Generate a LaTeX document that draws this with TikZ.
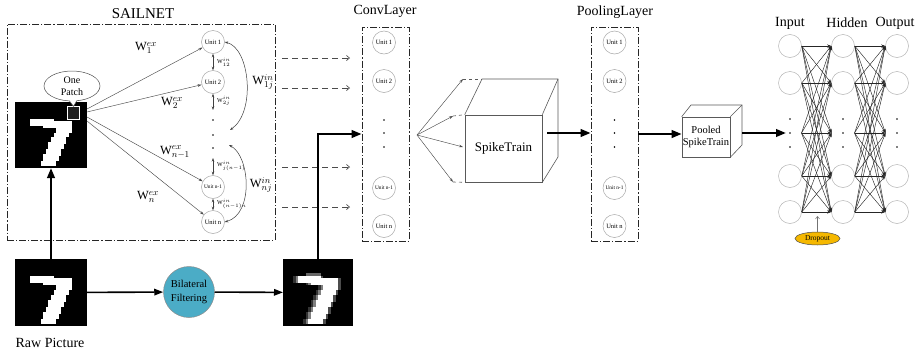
\documentclass[tikz,border=0pt]{standalone}
\usepackage{fontspec}
\setmainfont{Liberation Serif}
\usetikzlibrary{arrows.meta,shapes.geometric,shapes.callouts,calc}

\definecolor{dropgold}{HTML}{F5B800}
\definecolor{filterteal}{HTML}{4BACC6}

\newcommand\fs[2]{\fontsize{#1}{#2}\selectfont}

% white runs of the handwritten seven on a 28x28 grid: row/first column/last column
\newcommand\sevenrows{7/6/14, 8/6/21, 9/6/21, 10/11/21, 11/16/21, 12/16/21,
  13/15/20, 14/15/20, 15/14/19, 16/14/19, 17/13/19, 18/13/18, 19/13/18,
  20/12/17, 21/12/17, 22/11/17, 23/11/16, 24/11/16, 25/10/15, 26/10/15}

% #1 image node, #2 cell width, #3 cell height
\newcommand\drawseven[3]{%
  \begin{scope}[shift={(#1.north west)},x={(#2pt,0pt)},y={(0pt,-#3pt)}]
    \foreach \r/\a/\b in \sevenrows {\fill[white] (\a,\r) rectangle ({\b+1},{\r+1});}
  \end{scope}}

% same digit after edge-preserving smoothing: grey fringe along the strokes
\newcommand\drawsevensoft[3]{%
  \begin{scope}[shift={(#1.north west)},x={(#2pt,0pt)},y={(0pt,-#3pt)}]
    \foreach \r/\a/\b in \sevenrows {
      \fill[black!80] ({\a-2},\r) rectangle ({\a-1},{\r+1});
      \fill[black!50] ({\a-1},\r) rectangle (\a,{\r+1});
      \fill[black!70] ({\b+1},\r) rectangle ({\b+2},{\r+1});
    }
    \fill[black!60] (9,6) rectangle (15,7);
    \foreach \r/\a/\b in \sevenrows {\fill[white] (\a,\r) rectangle ({\b+1},{\r+1});}
  \end{scope}}

\begin{document}
\begin{tikzpicture}[x=1pt,y=-1pt,
  unit/.style={circle, draw=black!35, line width=0.5pt, minimum size=23pt, inner sep=0pt, font=\fs{6.5}{7}},
  unitsm/.style={unit, font=\fs{5.3}{6}},
  layerbox/.style={draw=black!85, line width=0.7pt, dash pattern=on 7pt off 2pt on 1.2pt off 2pt},
  title/.style={font=\fs{14}{16}},
  wlab/.style={font=\fs{12.5}{14}, inner sep=0pt},
  wsmall/.style={font=\fs{6}{7}, inner sep=0pt, anchor=west},
  thickarrow/.style={line width=2.3pt, -{Triangle[length=10pt,width=7.5pt]}},
  midarrow/.style={line width=1.6pt, -{Triangle[length=9pt,width=6.5pt]}},
  thinarrow/.style={draw=black!70, line width=0.45pt, -{Stealth[length=4pt,width=2.6pt]}},
  dasharrow/.style={draw=black!70, line width=0.7pt, dash pattern=on 6pt off 4pt, -{Straight Barb[length=3pt,width=5pt]}},
  inharrow/.style={draw=black!75, line width=0.5pt, {Stealth[length=3.5pt,width=2.5pt]}-{Stealth[length=3.5pt,width=2.5pt]}},
  nncirc/.style={circle, draw=black!30, line width=0.5pt, minimum size=23pt, inner sep=0pt},
  nnline/.style={draw=black!85, line width=0.45pt, -{Stealth[length=4pt,width=3pt]}},
  img/.style={fill=black, inner sep=0pt, outer sep=0pt},
  dot/.style={circle, fill=black, inner sep=0pt, minimum size=1.6pt},
  cube/.style={draw=black!65, line width=0.6pt},
  ]
\useasboundingbox (0,0) rectangle (922,354);

% ---------------- SAILNET ----------------
\node[layerbox, minimum width=268pt, minimum height=216pt] (sailbox) at (141,132) {};
\node[title, font=\fs{15}{17}] (sailtitle) at (143,14) {SAILNET};

\node[img, minimum width=72pt, minimum height=66pt] (sailimg) at (51,135) {};
\drawseven{sailimg}{2.571}{2.357}
\node[fill=black!88, draw=white, line width=0.7pt, minimum size=12.5pt, inner sep=0pt] (patch) at (73.5,113) {};
\node[ellipse callout, draw=black!70, fill=white, line width=0.5pt, callout absolute pointer={(patch.north)},
      minimum width=56pt, minimum height=30pt, inner sep=0pt, align=center, font=\fs{10}{11.5}] (onepatch) at (72,86) {One\\Patch};

\node[unit] (u1) at (213,42) {Unit 1};
\node[unit] (u2) at (213,82) {Unit 2};
\node[unitsm] (un1) at (213,187) {Unit n-1};
\node[unit] (un) at (213,222) {Unit n};
\node[dot] (sd1) at (213,120) {};
\node[dot] (sd2) at (213,135) {};
\node[dot] (sd3) at (213,148) {};

\coordinate (s1) at (87,109);
\coordinate (s2) at (87,112);
\coordinate (s3) at (87,117);
\coordinate (s4) at (87,121);
\draw[thinarrow] (s1) -- (u1);
\draw[thinarrow] (s2) -- (u2);
\draw[thinarrow] (s3) -- (un1);
\draw[thinarrow] (s4) -- (un);

\node[wlab] (w1ex) at (146,48) {W$_{1}^{ex}$};
\node[wlab] (w2ex) at (172,103) {W$_{2}^{ex}$};
\node[wlab] (wn1ex) at (175,152) {W$_{n-1}^{ex}$};
\node[wlab] (wnex) at (148,197) {W$_{n}^{ex}$};

\coordinate (dtop) at (213,110);
\coordinate (dbot) at (213,158);
\draw[inharrow] (u1) -- (u2);
\draw[inharrow] (u2) -- (dtop);
\draw[inharrow] (dbot) -- (un1);
\draw[inharrow] (un1) -- (un);
\node[wsmall] (w12) at (217,62) {W$_{12}^{in}$};
\node[wsmall] (w2j) at (217,101) {W$_{2j}^{in}$};
\node[wsmall] (wjn) at (217,166) {W$_{j(n-1)}^{in}$};
\node[wsmall] (wnn) at (217,204) {W$_{(n-1)n}^{in}$};

\coordinate (c1e) at (230,130);
\coordinate (c2s) at (229,145);
\draw[inharrow] (u1.east) .. controls (250,48) and (256,112) .. (c1e);
\draw[inharrow] (c2s) .. controls (250,156) and (254,214) .. (un.east);
\node[wlab] (w1j) at (263,82) {W$_{1j}^{in}$};
\node[wlab] (wnj) at (261,185) {W$_{nj}^{in}$};

% excitatory outputs handed to the convolution layer
\foreach \k/\yy in {1/58, 2/88, 3/167, 4/207} {
  \coordinate (da\k) at (282,\yy);
  \coordinate (db\k) at (350,\yy);
  \draw[dasharrow] (da\k) -- (db\k);
}

% ---------------- input row ----------------
\node[img, minimum width=72pt, minimum height=67pt] (raw) at (51,292.5) {};
\drawseven{raw}{2.571}{2.393}
\node[font=\fs{14}{16}] (rawlab) at (50,343) {Raw Picture};

\node[circle, fill=filterteal, draw=black!45, line width=0.5pt, minimum size=51pt, inner sep=0pt,
      align=center, font=\fs{10.5}{14}] (bf) at (189,292) {Bilateral\\Filtering};

\node[img, minimum width=70pt, minimum height=67pt] (img2) at (318,292.5) {};
\drawsevensoft{img2}{2.5}{2.393}

\draw[thickarrow] (raw.north) -- (sailimg.south);
\draw[midarrow] (raw) -- (bf);
\draw[midarrow] (bf) -- (img2);

% ---------------- ConvLayer ----------------
\node[layerbox, minimum width=47pt, minimum height=214pt] (conv) at (385.5,134) {};
\node[title] (convtitle) at (385,11) {ConvLayer};
\node[unit] (c1) at (384,42.5) {Unit 1};
\node[unit] (c2) at (384,81) {Unit 2};
\node[unitsm] (c4) at (384,188) {Unit n-1};
\node[unit] (c5) at (384,226) {Unit n};
\node[dot] (cd1) at (384,120) {};
\node[dot] (cd2) at (384,133) {};
\node[dot] (cd3) at (384,147) {};

\draw[thickarrow] (img2.north) |- (conv.west);

% ---------------- SpikeTrain cube ----------------
\node[cube, minimum width=77pt, minimum height=67pt, inner sep=0pt, font=\fs{13}{15}] (st) at (503.5,148.5) {SpikeTrain};
\draw[cube] (st.north west) -- (482,79) -- (558,79) -- (558,157) -- (st.south east);
\draw[cube] (st.north east) -- (558,79);

\coordinate (fan) at (417,135);
\coordinate (f1) at (463,79);
\coordinate (f2) at (453,116);
\coordinate (f3) at (463,147);
\coordinate (f4) at (453,182);
\foreach \k in {1,2,3,4} {\draw[thinarrow] (fan) -- (f\k);}
\draw[cube, dashed] (f1) -- (482,79);
\draw[cube, dashed] (f2) -- (st.north west);
\draw[cube, dashed] (f4) -- (st.south west);

% ---------------- PoolingLayer ----------------
\node[layerbox, minimum width=47pt, minimum height=214pt] (pool) at (614.5,134) {};
\node[title] (pooltitle) at (615,12) {PoolingLayer};
\node[unit] (p1) at (614.5,42.5) {Unit 1};
\node[unit] (p2) at (614.5,81) {Unit 2};
\node[unitsm] (p4) at (614.5,188) {Unit n-1};
\node[unit] (p5) at (614.5,226) {Unit n};
\node[dot] (pd1) at (614.5,120) {};
\node[dot] (pd2) at (614.5,133) {};
\node[dot] (pd3) at (614.5,147) {};

\coordinate (stout) at (547,133);
\draw[thickarrow] (stout) -- (stout -| pool.west);

% ---------------- Pooled SpikeTrain cube ----------------
\node[cube, minimum width=48pt, minimum height=40pt, inner sep=0pt, align=center, font=\fs{10.5}{12.5}] (ps) at (706,137) {Pooled\\SpikeTrain};
\draw[cube] (ps.north west) -- (691,105) -- (742,105) -- (742,145) -- (ps.south east);
\draw[cube] (ps.north east) -- (742,105);

\draw[thickarrow] (pool.east) -- (pool.east -| ps.west);

% ---------------- fully connected network ----------------
\node[title] (tin) at (790,23) {Input};
\node[title] (thid) at (847,23) {Hidden};
\node[title] (tout) at (895,23) {Output};

\foreach \k/\yy in {1/46, 2/83, 4/176, 5/212} {
  \node[nncirc] (i\k) at (790,\yy) {};
  \node[nncirc] (h\k) at (843,\yy) {};
  \node[nncirc] (o\k) at (897,\yy) {};
  \coordinate (iE\k) at (i\k.east);
  \coordinate (hW\k) at (h\k.west);
  \coordinate (hE\k) at (h\k.east);
  \coordinate (oW\k) at (o\k.west);
}
\coordinate (iE3) at (801.5,133);
\coordinate (hW3) at (831.5,133);
\coordinate (hE3) at (854.5,133);
\coordinate (oW3) at (885.5,133);
\foreach \xx/\col in {790/in, 843/hid, 897/out} {
  \foreach \yy/\k in {119/1, 133/2, 147/3} {\node[dot] (nd\col\k) at (\xx,\yy) {};}
}

\foreach \a in {1,...,5} {
  \foreach \b in {1,...,5} {
    \draw[nnline] (iE\a) -- (hW\b);
    \draw[nnline] (hE\a) -- (oW\b);
  }
}

\coordinate (psout) at (742,133);
\coordinate (nnin) at (786,133);
\draw[thickarrow] (psout) -- (nnin);

\node[ellipse, draw=black!70, fill=dropgold, line width=0.5pt, minimum width=45pt, minimum height=13pt,
      inner sep=0pt, font=\fs{7.5}{8}] (drop) at (817.5,238.5) {Dropout};
\coordinate (droptip) at (817.5,216);
\draw[draw=black!55, line width=0.5pt, -{Straight Barb[length=2.5pt,width=4pt]}] (drop.north) -- (droptip);

\end{tikzpicture}
\end{document}
